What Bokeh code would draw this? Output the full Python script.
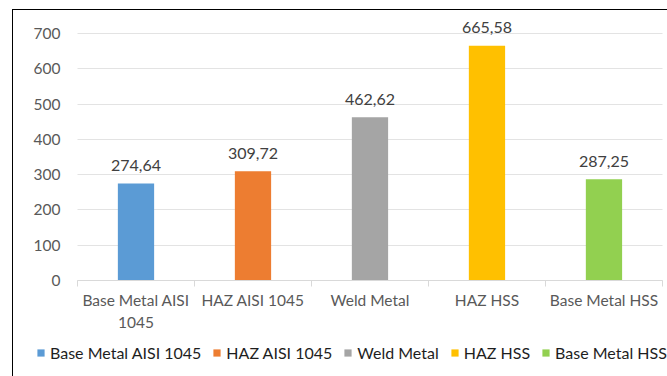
from bokeh.plotting import figure
from bokeh.models import ColumnDataSource, FixedTicker, Range1d, Legend, LegendItem
from bokeh.core.properties import value
from bokeh.embed import file_html
from bokeh.resources import INLINE

categories = ["Base Metal AISI 1045", "HAZ AISI 1045", "Weld Metal", "HAZ HSS", "Base Metal HSS"]
tick_labels = ["Base Metal AISI\n1045", "HAZ AISI 1045", "Weld Metal", "HAZ HSS", "Base Metal HSS"]
values = [274.64, 309.72, 462.62, 665.58, 287.25]
value_labels = ["274,64", "309,72", "462,62", "665,58", "287,25"]
colors = ["#5B9BD5", "#ED7D31", "#A5A5A5", "#FFC000", "#92D050"]
y_ticks = [0, 100, 200, 300, 400, 500, 600, 700]

FONT = "Lato"
n = len(categories)
pos = [i + 0.5 for i in range(n)]

src = ColumnDataSource(dict(x=pos, top=values, color=colors, lab=value_labels, cat=categories))

# frame covers the whole canvas; axes are pinned at x=0 / y=0 inside it
p = figure(frame_width=654, frame_height=366, output_backend="svg", toolbar_location=None,
           x_range=Range1d(-0.547, 5.043), y_range=Range1d(-272.1, 765.2),
           min_border_left=0, min_border_right=0, min_border_top=0, min_border_bottom=0)
p.margin = (9, 0, 0, 12)
p.styles = {"border-left": "1px solid black", "border-top": "1px solid black"}
p.outline_line_color = None
p.background_fill_color = "white"
p.border_fill_color = "white"

renderers = []
for i in range(n):
    r = p.vbar(x=pos[i], top=values[i], bottom=0, width=0.31, fill_color=colors[i], line_color=None)
    renderers.append(r)

p.text(x="x", y="top", text="lab", source=src, text_align="center", text_baseline="alphabetic",
       y_offset=-18, text_font=value(FONT), text_font_size="16px", text_color="#404040")

# x axis
p.xaxis.fixed_location = 0
p.xaxis.bounds = (0, n)
p.xaxis.ticker = FixedTicker(ticks=pos, minor_ticks=[float(i) for i in range(n + 1)])
p.xaxis.major_label_overrides = {pos[i]: tick_labels[i] for i in range(n)}
p.xaxis.major_tick_line_color = None
p.xaxis.major_tick_out = 0
p.xaxis.major_tick_in = 0
p.xaxis.minor_tick_line_color = "#D9D9D9"
p.xaxis.minor_tick_out = 6
p.xaxis.minor_tick_in = 0
p.xaxis.axis_line_color = "#D9D9D9"
p.xaxis.major_label_text_font = FONT
p.xaxis.major_label_text_font_size = "15.5px"
p.xaxis.major_label_text_color = "#595959"
p.xaxis.major_label_standoff = 5

# y axis
p.yaxis.fixed_location = 0
p.yaxis.ticker = FixedTicker(ticks=y_ticks)
p.yaxis.axis_line_color = None
p.yaxis.major_tick_line_color = None
p.yaxis.major_tick_out = 0
p.yaxis.major_tick_in = 0
p.yaxis.minor_tick_line_color = None
p.yaxis.major_label_text_font = FONT
p.yaxis.major_label_text_font_size = "15.5px"
p.yaxis.major_label_text_color = "#595959"
p.yaxis.major_label_standoff = 17

p.xgrid.grid_line_color = None
p.ygrid.grid_line_color = "#E3E3E3"
p.ygrid.ticker = FixedTicker(ticks=y_ticks)
p.ygrid.cross_bounds = (0, n)

legend = Legend(items=[LegendItem(label=categories[i], renderers=[renderers[i]]) for i in range(n)],
                orientation="horizontal", location=(23, 14), padding=0, margin=0,
                border_line_color=None, background_fill_alpha=0,
                glyph_width=9, glyph_height=9, label_standoff=5, spacing=11, label_height=16,
                label_text_font=FONT, label_text_font_size="16px", label_text_color="#1E1E1E")
p.add_layout(legend, "center")

open("out.html", "w").write(file_html(p, INLINE))
